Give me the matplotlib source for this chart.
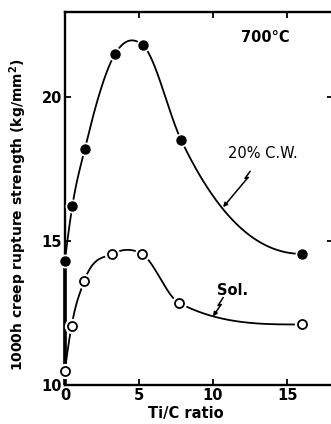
import numpy as np
import matplotlib
matplotlib.use("Agg")
import matplotlib.pyplot as plt

# Data
cw_x = [0.0, 0.5, 1.35, 3.4, 5.25, 7.85, 16.0]
cw_y = [14.3, 16.2, 18.2, 21.5, 21.8, 18.5, 14.55]
sol_x = [0.0, 0.45, 1.3, 3.2, 5.2, 7.7, 16.0]
sol_y = [10.5, 12.05, 13.6, 14.55, 14.55, 12.85, 12.1]
x_ticks = [0, 5, 10, 15]
y_ticks = [10, 15, 20]


def smooth_curve(x, y, n=60):
    """Piecewise cubic Hermite curve through the points (hand-drawn look)."""
    x = np.asarray(x, float)
    y = np.asarray(y, float)
    h = np.diff(x)
    m = np.diff(y) / h
    k = len(x)
    d = np.zeros(k)
    for i in range(1, k - 1):
        d[i] = (h[i] * m[i - 1] + h[i - 1] * m[i]) / (h[i - 1] + h[i])
    d[0] = ((2 * h[0] + h[1]) * m[0] - h[0] * m[1]) / (h[0] + h[1])
    d[-1] = ((2 * h[-1] + h[-2]) * m[-1] - h[-1] * m[-2]) / (h[-1] + h[-2])
    if np.sign(d[0]) != np.sign(m[0]):
        d[0] = 0
    if np.sign(d[-1]) != np.sign(m[-1]):
        d[-1] = 0
    # limit overshoot on monotone segments
    for i in range(k - 1):
        if m[i] == 0:
            continue
        a, b = d[i] / m[i], d[i + 1] / m[i]
        if a > 0 and b >= 0 or a >= 0 and b > 0:
            r = np.hypot(a, b)
            if r > 3:
                t = 3 / r
                if np.sign(d[i]) == np.sign(m[i]):
                    d[i] = t * a * m[i]
                if np.sign(d[i + 1]) == np.sign(m[i]):
                    d[i + 1] = t * b * m[i]
    xs, ys = [], []
    for i in range(k - 1):
        t = np.linspace(0, 1, n)
        h00 = 2 * t**3 - 3 * t**2 + 1
        h10 = t**3 - 2 * t**2 + t
        h01 = -2 * t**3 + 3 * t**2
        h11 = t**3 - t**2
        xs.append(x[i] + t * h[i])
        ys.append(h00 * y[i] + h10 * h[i] * d[i] + h01 * y[i + 1] + h11 * h[i] * d[i + 1])
    return np.concatenate(xs), np.concatenate(ys)


plt.rcParams["font.family"] = ["DejaVu Sans"]
plt.rcParams["font.weight"] = "bold"
fig = plt.figure(figsize=(3.31, 4.24), dpi=100)
ax = fig.add_axes([0.196, 0.092, 0.81, 0.88])

ymin, ymax = 10, 22.95
for xs_, ys_ in (smooth_curve(cw_x, cw_y), smooth_curve(sol_x, sol_y)):
    ax.plot(xs_, ys_, color="black", lw=1.3, zorder=2, clip_on=False)

# heavy line along the axis up to the first cold-worked point
ax.plot([cw_x[0], cw_x[0]], [ymin, cw_y[0]], color="black", lw=2.6,
        zorder=2, clip_on=False, solid_capstyle="butt")

# white halos then markers
ax.plot(cw_x, cw_y, "o", ms=9, color="white", zorder=3, clip_on=False)
ax.plot(sol_x, sol_y, "o", ms=10, color="white", zorder=3, clip_on=False)
ax.plot(cw_x, cw_y, "o", ms=6.5, color="black", zorder=4, clip_on=False)
ax.plot(sol_x, sol_y, "o", ms=6.5, mfc="white", mec="black", mew=1.3,
        zorder=4, clip_on=False)

ax.set_xlim(0, 18.1)
ax.set_ylim(ymin, ymax)
ax.set_xticks(x_ticks)
ax.set_yticks(y_ticks)
ax.tick_params(direction="in", length=4, width=1.3, top=True, right=True,
               labelsize=10.5, pad=2)
for s in ax.spines.values():
    s.set_linewidth(1.7)

ax.set_xlabel("Ti/C ratio", fontsize=10.5, fontweight="bold")
ax.xaxis.set_label_coords(0.45, -0.055)
ax.set_ylabel("1000h creep rupture strength (kg/mm$^\\mathbf{2}$)",
              fontsize=10, fontweight="bold")
ax.yaxis.set_label_coords(-0.135, 0.455)

ax.text(13.5, 22.07, "700°C", fontsize=10.5, ha="center", va="center")
ax.text(13.4, 18.03, "20% C.W.", fontsize=10.5, fontweight="normal",
        ha="center", va="center")
ax.text(11.3, 13.28, "Sol.", fontsize=10.5, ha="center", va="center")

# lightning-style leaders
ax.plot([12.5, 12.16, 12.36], [17.41, 17.17, 17.2], color="black", lw=1.1)
ax.annotate("", xy=(10.68, 16.17), xytext=(12.36, 17.2),
            arrowprops=dict(arrowstyle="-|>", color="black", lw=1.1,
                            mutation_scale=6, shrinkA=0, shrinkB=0))
ax.plot([10.68, 10.34, 10.54], [13.03, 12.76, 12.79], color="black", lw=1.1)
ax.annotate("", xy=(10.0, 12.38), xytext=(10.54, 12.79),
            arrowprops=dict(arrowstyle="-|>", color="black", lw=1.1,
                            mutation_scale=6, shrinkA=0, shrinkB=0))

fig.savefig("out.png", dpi=100)
